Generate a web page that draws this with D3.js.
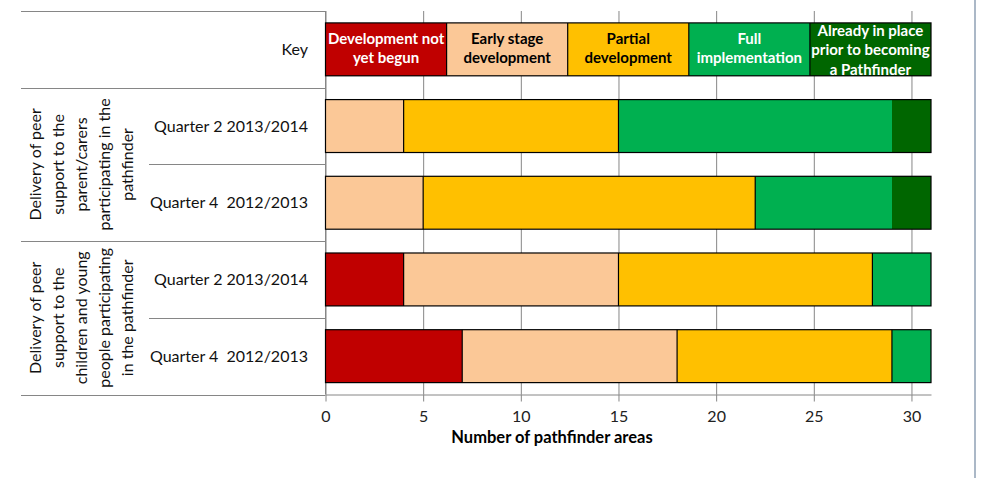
<!DOCTYPE html>
<html>
<head>
<meta charset="utf-8">
<script src="https://cdn.jsdelivr.net/npm/d3@7"></script>
<style>
  body { margin: 0; background: #fff; }
  svg { display: block; font-family: Lato, "Open Sans", sans-serif; }
</style>
</head>
<body>
<div id="chart"></div>
<script>
// rows of the table, top to bottom ("key" row is the legend bar)
const rowIds = ['key', 'parQ2', 'parQ4', 'chQ2', 'chQ4'];
const rowLabels = ['Key', 'Quarter 2 2013/2014', 'Quarter 4  2012/2013', 'Quarter 2 2013/2014', 'Quarter 4  2012/2013'];

const groupLabels = [
  ['Delivery of peer', 'support to the', 'parent/carers', 'participating in the', 'pathfinder'],
  ['Delivery of peer', 'support to the', 'children and young', 'people participating', 'in the pathfinder']
];
const groupRows = [['parQ2', 'parQ4'], ['chQ2', 'chQ4']];

const seriesNames = ['Development not yet begun', 'Early stage development', 'Partial development',
  'Full implementation', 'Already in place prior to becoming a Pathfinder'];
const seriesLines = [
  ['Development not', 'yet begun'],
  ['Early stage', 'development'],
  ['Partial', 'development'],
  ['Full', 'implementation'],
  ['Already in place', 'prior to becoming', 'a Pathfinder']
];
const seriesColors = ['#C00000', '#FBC897', '#FFC000', '#00B050', '#006600'];
const seriesText = ['#fff', '#000', '#000', '#fff', '#fff'];

// values per series, same order as rowIds
const notBegun = [6.2, 0, 0, 4, 7];
const earlyStage = [6.2, 4, 5, 11, 11];
const partial = [6.2, 11, 17, 13, 11];
const fullImpl = [6.2, 14, 7, 3, 2];
const alreadyInPlace = [6.2, 2, 2, 0, 0];

const xTicks = [0, 5, 10, 15, 20, 25, 30];
const xTitle = 'Number of pathfinder areas';

const W = 984, H = 478;
const plotTop = 11, plotBottom = 394.5, plotLeft = 325.5, plotRight = 931;

const allSeries = [notBegun, earlyStage, partial, fullImpl, alreadyInPlace];
const table = rowIds.map((id, i) => {
  const o = { id };
  seriesNames.forEach((s, j) => { o[s] = allSeries[j][i]; });
  return o;
});
const stacked = d3.stack().keys(seriesNames)(table);

const svg = d3.select('#chart').append('svg')
  .attr('width', W)
  .attr('height', H);

const x = d3.scaleLinear().domain([0, 31]).range([plotLeft, plotRight]);
const rowScale = d3.scaleBand().domain(rowIds).range([plotTop, plotBottom]);
const y = d3.scaleBand().domain(rowIds).range([plotTop, plotBottom])
  .paddingInner(0.31).paddingOuter(0.155);

const gridColor = '#868686';

// vertical gridlines
svg.append('g')
  .attr('transform', `translate(0,${plotBottom})`)
  .call(d3.axisBottom(x).tickValues(xTicks).tickSize(-(plotBottom - plotTop)).tickFormat(''))
  .call(g => g.select('.domain').remove())
  .selectAll('line').attr('stroke', gridColor);

// x axis
const xAxis = svg.append('g')
  .attr('transform', `translate(0,${plotBottom})`)
  .call(d3.axisBottom(x).tickValues(xTicks).tickSize(7).tickSizeOuter(0).tickPadding(9));
xAxis.select('.domain').attr('stroke', gridColor);
xAxis.selectAll('line').attr('stroke', gridColor);
xAxis.selectAll('text')
  .attr('fill', '#222')
  .style('font-size', '16px')
  .style('font-family', 'Lato, sans-serif');

svg.append('text')
  .attr('x', 552)
  .attr('y', 443)
  .attr('text-anchor', 'middle')
  .style('font-size', '16.5px')
  .style('font-weight', 'bold')
  .text(xTitle);

// left axis line
svg.append('line')
  .attr('x1', plotLeft).attr('x2', plotLeft)
  .attr('y1', plotTop).attr('y2', plotBottom)
  .attr('stroke', gridColor);

// table separators: full width at group edges, short ones between quarters
const fullLines = [plotTop, rowScale('parQ2'), rowScale('chQ2'), plotBottom];
const shortLines = [rowScale('parQ4'), rowScale('chQ4')];
svg.selectAll('.sep-full').data(fullLines).enter().append('line')
  .attr('x1', 21).attr('x2', plotLeft)
  .attr('y1', d => Math.round(d) + 0.5).attr('y2', d => Math.round(d) + 0.5)
  .attr('stroke', gridColor);
svg.selectAll('.sep-short').data(shortLines).enter().append('line')
  .attr('x1', 149).attr('x2', plotLeft)
  .attr('y1', d => Math.round(d) + 0.5).attr('y2', d => Math.round(d) + 0.5)
  .attr('stroke', gridColor);

// row labels
svg.selectAll('.row-label').data(rowIds).enter().append('text')
  .attr('x', 308)
  .attr('y', d => rowScale(d) + rowScale.bandwidth() / 2)
  .attr('dy', '0.35em')
  .attr('text-anchor', 'end')
  .attr('fill', '#111')
  .style('font-size', '16px')
  .style('white-space', 'pre')
  .text((d, i) => rowLabels[i]);

// rotated group labels
groupLabels.forEach((lines, gi) => {
  const rows = groupRows[gi];
  const cy = (rowScale(rows[0]) + rowScale(rows[1]) + rowScale.bandwidth()) / 2;
  const t = svg.append('text')
    .attr('transform', `translate(81,${cy}) rotate(-90)`)
    .attr('text-anchor', 'middle')
    .style('font-size', '16px')
    .attr('fill', '#111');
  lines.forEach((ln, li) => {
    t.append('tspan')
      .attr('x', 0)
      .attr('y', (li - (lines.length - 1) / 2) * 23)
      .attr('dy', '0.35em')
      .text(ln);
  });
});

// stacked segments
const layers = svg.selectAll('.layer').data(stacked).enter().append('g')
  .attr('fill', (d, i) => seriesColors[i]);
layers.selectAll('rect').data(d => d).enter().append('rect')
  .attr('x', d => x(d[0]))
  .attr('y', d => y(d.data.id))
  .attr('width', d => x(d[1]) - x(d[0]))
  .attr('height', y.bandwidth())
  .attr('shape-rendering', 'crispEdges');

// black outlines: whole bar plus dividers (green and dark green share no divider in data rows)
rowIds.forEach((id, ri) => {
  const total = d3.sum(allSeries, s => s[ri]);
  svg.append('rect')
    .attr('x', x(0)).attr('y', y(id))
    .attr('width', x(total) - x(0)).attr('height', y.bandwidth())
    .attr('fill', 'none').attr('stroke', '#000').attr('stroke-width', 1.2);
  stacked.forEach((layer, si) => {
    if (si === stacked.length - 1) return;
    const seg = layer[ri];
    if (seg[1] >= total || seg[1] === seg[0]) return;
    const next = stacked[si + 1][ri];
    if (id !== 'key' && si === 3 && next[1] > next[0]) return;
    svg.append('line')
      .attr('x1', x(seg[1])).attr('x2', x(seg[1]))
      .attr('y1', y(id)).attr('y2', y(id) + y.bandwidth())
      .attr('stroke', '#000').attr('stroke-width', 1.2);
  });
});

// legend text inside the key bar
const keyLayerPos = stacked.map(l => l[0]);
seriesLines.forEach((lines, si) => {
  const seg = keyLayerPos[si];
  const cx = (x(seg[0]) + x(seg[1])) / 2;
  const cy = y('key') + y.bandwidth() / 2;
  const t = svg.append('text')
    .attr('text-anchor', 'middle')
    .attr('fill', seriesText[si])
    .style('font-size', '15px')
    .style('font-weight', 'bold');
  lines.forEach((ln, li) => {
    t.append('tspan')
      .attr('x', cx)
      .attr('y', cy + (li - (lines.length - 1) / 2) * 19.5 + (lines.length === 3 ? 0.5 : -1))
      .attr('dy', '0.35em')
      .text(ln);
  });
});

// frame edge on the right
svg.append('line')
  .attr('x1', 975).attr('x2', 975)
  .attr('y1', 0).attr('y2', H)
  .attr('stroke', '#8fa0b4')
  .attr('stroke-width', 1.5);
</script>
</body>
</html>
